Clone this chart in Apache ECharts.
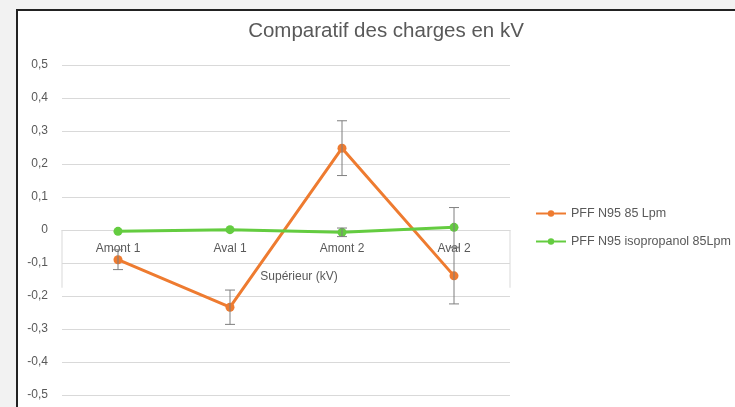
<!DOCTYPE html>
<html>
<head>
<meta charset="utf-8">
<script src="https://cdn.jsdelivr.net/npm/echarts@6/dist/echarts.min.js"></script>
<style>
  html, body { margin: 0; padding: 0; background: #f2f2f2; }
  .panel {
    position: absolute; left: 16px; top: 9px; right: 0; bottom: 0;
    background: #fff; border-left: 2px solid #222; border-top: 2px solid #222;
  }
  #chart { position: absolute; left: 0; top: 0; width: 735px; height: 407px; }
</style>
</head>
<body>
<div class="panel"></div>
<div id="chart"></div>
<script>
const categories = ['Amont 1', 'Aval 1', 'Amont 2', 'Aval 2']
const pffValues = [-0.09, -0.234, 0.248, -0.139]
const pffErr = [0.03, 0.052, 0.083, 0.085]
const isoValues = [-0.004, 0.001, -0.007, 0.008]
const isoErr = [0, 0, 0.013, 0.06]
const seriesNames = ['PFF N95 85 Lpm', 'PFF N95 isopropanol 85Lpm']

const orange = '#ee7b30'
const green = '#64cc40'
const textColor = '#595959'
const font = 'Liberation Sans'

// error bars: [index, low, high]
function errData(vals, errs) {
  return vals.map((v, i) => [i, v - errs[i], v + errs[i]]).filter((d, i) => errs[i] > 0)
}

function renderErr(params, api) {
  const x = api.value(0)
  const lo = api.coord([x, api.value(1)])
  const hi = api.coord([x, api.value(2)])
  const half = 5
  const style = { stroke: '#7f7f7f', lineWidth: 1 }
  return {
    type: 'group',
    children: [
      { type: 'line', shape: { x1: lo[0], y1: lo[1], x2: hi[0], y2: hi[1] }, style },
      { type: 'line', shape: { x1: lo[0] - half, y1: lo[1], x2: lo[0] + half, y2: lo[1] }, style },
      { type: 'line', shape: { x1: hi[0] - half, y1: hi[1], x2: hi[0] + half, y2: hi[1] }, style }
    ]
  }
}

const chart = echarts.init(document.getElementById('chart'))
const options = {
  animation: false,
  title: {
    text: 'Comparatif des charges en kV',
    left: 381,
    textAlign: 'center',
    top: 16,
    textStyle: { fontFamily: font, fontSize: 20.5, fontWeight: 'normal', color: textColor }
  },
  legend: {
    orient: 'vertical',
    left: 535,
    top: 207,
    padding: 0,
    itemWidth: 30,
    itemHeight: 8,
    itemGap: 15,
    data: seriesNames,
    textStyle: { fontFamily: font, fontSize: 12.5, color: textColor }
  },
  grid: { left: 62, right: 225, top: 65, bottom: 12, outerBoundsMode: 'none', containLabel: false },
  xAxis: {
    type: 'category',
    data: categories,
    boundaryGap: true,
    name: 'Supérieur (kV)',
    nameLocation: 'middle',
    nameTextStyle: { fontFamily: font, fontSize: 12, color: textColor, padding: [0, 0, 0, 26] },
    axisLine: { onZero: true, lineStyle: { color: '#d9d9d9' } },
    axisTick: { show: false },
    axisLabel: { fontFamily: font, fontSize: 12, color: textColor }
  },
  yAxis: {
    type: 'value',
    min: -0.5,
    max: 0.5,
    interval: 0.1,
    axisLine: { show: false },
    axisTick: { show: false },
    splitLine: { lineStyle: { color: '#d9d9d9' } },
    axisLabel: {
      fontFamily: font, fontSize: 12, color: textColor, margin: 14,
      formatter: v => {
        const r = Math.round(v * 10) / 10
        return r === 0 ? '0' : String(r).replace('.', ',')
      }
    }
  },
  series: [
    {
      name: seriesNames[0],
      type: 'line',
      data: pffValues,
      symbol: 'circle',
      symbolSize: 9,
      itemStyle: { color: orange },
      lineStyle: { color: orange, width: 3 },
      z: 3
    },
    {
      name: seriesNames[1],
      type: 'line',
      data: isoValues,
      symbol: 'circle',
      symbolSize: 9,
      itemStyle: { color: green },
      lineStyle: { color: green, width: 3 },
      z: 3
    },
    {
      type: 'custom',
      renderItem: renderErr,
      data: errData(pffValues, pffErr),
      z: 4,
      silent: true
    },
    {
      type: 'custom',
      renderItem: renderErr,
      data: errData(isoValues, isoErr),
      z: 4,
      silent: true
    }
  ]
}
chart.setOption(options)

// labels sit at the grid bottom, pull them up to the zero line
const zeroY = chart.convertToPixel({ yAxisIndex: 0 }, 0)
const bottomY = chart.convertToPixel({ yAxisIndex: 0 }, -0.5)
const shift = bottomY - zeroY

// outer boundary lines of the category label band
const first = chart.convertToPixel({ gridIndex: 0 }, [0, 0])
const second = chart.convertToPixel({ gridIndex: 0 }, [1, 0])
const last = chart.convertToPixel({ gridIndex: 0 }, [categories.length - 1, 0])
const half = (second[0] - first[0]) / 2
const bandBottom = chart.convertToPixel({ gridIndex: 0 }, [0, -0.175])[1]
chart.setOption({
  xAxis: {
    axisLabel: { margin: 13 - shift },
    nameGap: 41 - shift
  },
  graphic: [first[0] - half, last[0] + half].map(x => ({
    type: 'line',
    shape: { x1: x, y1: zeroY, x2: x, y2: bandBottom },
    style: { stroke: '#d9d9d9', lineWidth: 1 },
    silent: true
  }))
})
</script>
</body>
</html>
